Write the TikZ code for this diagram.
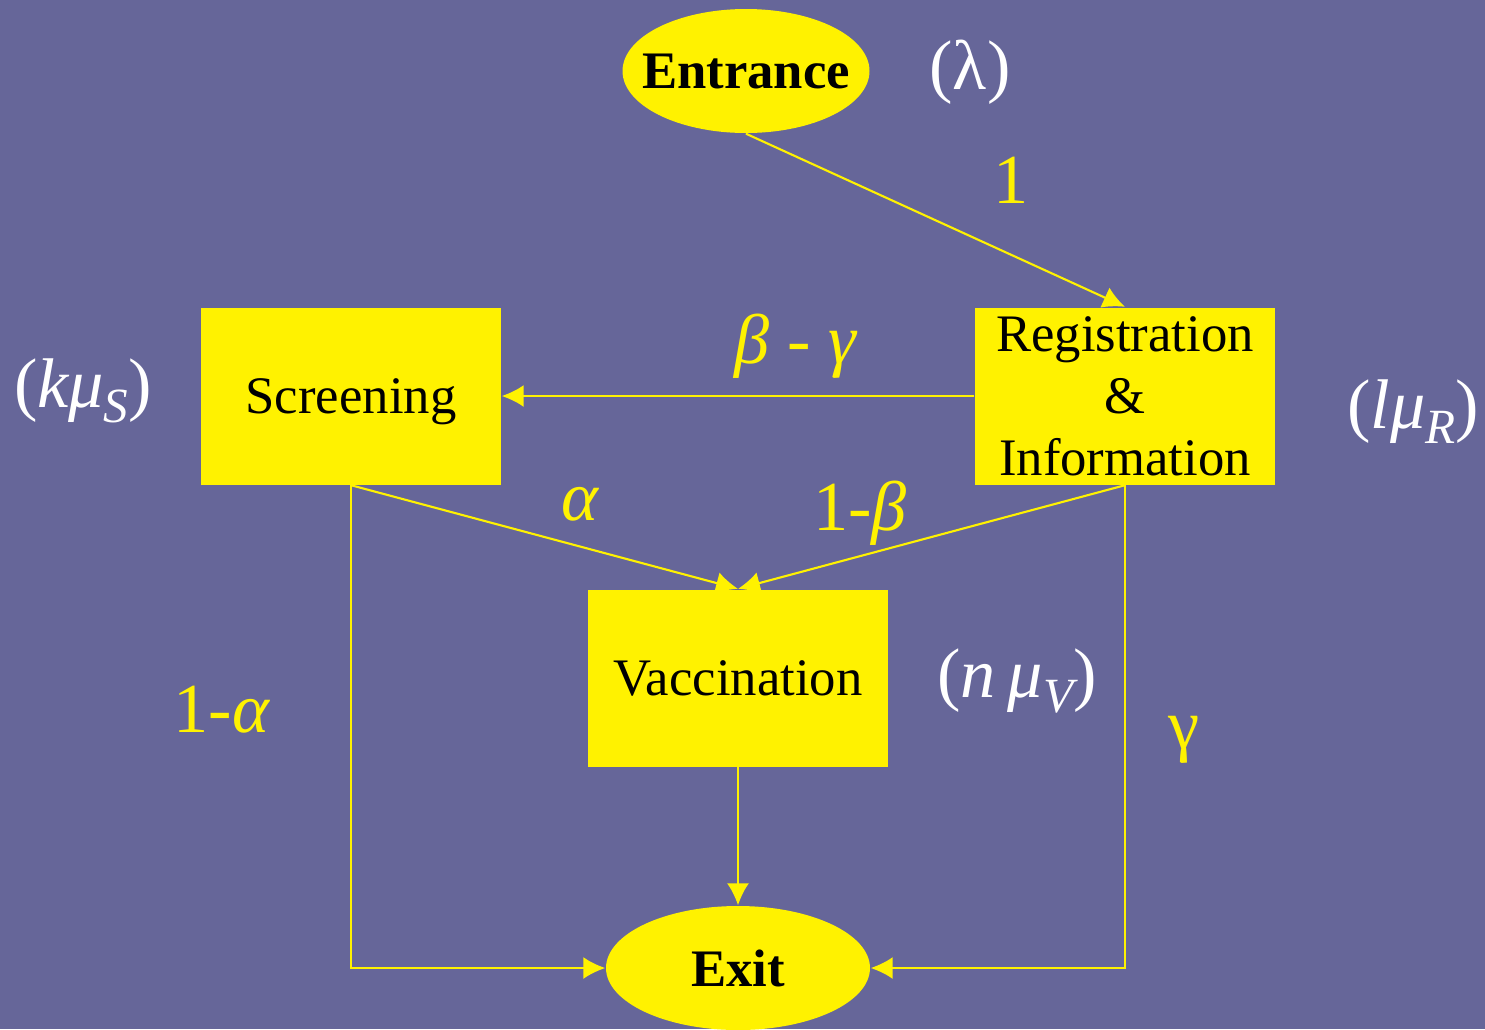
\documentclass[tikz,border=0pt]{standalone}
\usepackage{fontspec}
\setmainfont{Liberation Serif}
\usetikzlibrary{shapes.geometric,arrows.meta}
\definecolor{slate}{RGB}{102,102,153}
\newcommand{\sub}[1]{\raisebox{-4.5pt}{\fontsize{14}{14}\selectfont\itshape #1}}
\begin{document}
\begin{tikzpicture}
    [
    x=0.1mm,y=-0.1mm,
    box/.style={rectangle,fill=yellow,inner sep=0pt,minimum width=30mm,minimum height=17.7mm,align=center,text depth=0pt,font=\fontsize{15}{17.6}\selectfont},
    terminal/.style={ellipse,fill=yellow,inner xsep=-2mm,inner ysep=0pt,minimum height=12.4mm,font=\fontsize{15}{18}\selectfont\bfseries},
    rate/.style={text=white,inner sep=0pt,anchor=base,font=\fontsize{20}{24}\selectfont},
    prob/.style={text=yellow,inner sep=0pt,anchor=base,font=\fontsize{20}{24}\selectfont},
    flow/.style={draw=yellow,line width=0.6pt,-{Latex[length=2.2mm,width=2.2mm]}}
    ]
    \useasboundingbox (0,0) rectangle (1485,1029);
    \fill [slate] (0,0) rectangle (1485,1029);
    % stations
    \node (entrance) at (746,71) [terminal,minimum width=24.7mm] {Entrance};
    \node (scr) at (351,396) [box] {Screening};
    \node (reg) at (1125,396) [box] {Registration\\ \&\\ Information};
    \node (vac) at (738,678) [box] {Vaccination};
    \node (exit) at (738,968) [terminal,minimum width=26.4mm] {Exit};
    % service rates
    \node (lambda) at (970,89) [rate] {(λ)};
    \node (rateS) at (83,407) [rate] {(\textit{kμ}\sub{S})};
    \node (rateR) at (1413,428) [rate] {(\textit{lμ}\sub{R})};
    \node (rateV) at (1017,697) [rate] {(\textit{n\,μ}\sub{V})};
    % routing
    \draw [flow] (entrance.south) to (reg.north);
    \draw [flow] (reg.west) to (scr.east);
    \draw [flow] (scr.south) to (vac.north);
    \draw [flow] (reg.south) to (vac.north);
    \draw [flow] (vac.south) to (exit.north);
    \draw [flow] (scr.south) |- (exit.west);
    \draw [flow] (reg.south) |- (exit.east);
    \node (p1) at (1011,203) [prob] {1};
    \node (pbg) at (796,363) [prob] {\textit{β} - \textit{γ}};
    \node (pa) at (581,520) [prob] {\textit{α}};
    \node (pb) at (860,530) [prob] {1-\textit{β}};
    \node (pna) at (222,732) [prob] {1-\textit{α}};
    \node (pg) at (1184,748) [prob] {γ};
  \end{tikzpicture}
\end{document}
